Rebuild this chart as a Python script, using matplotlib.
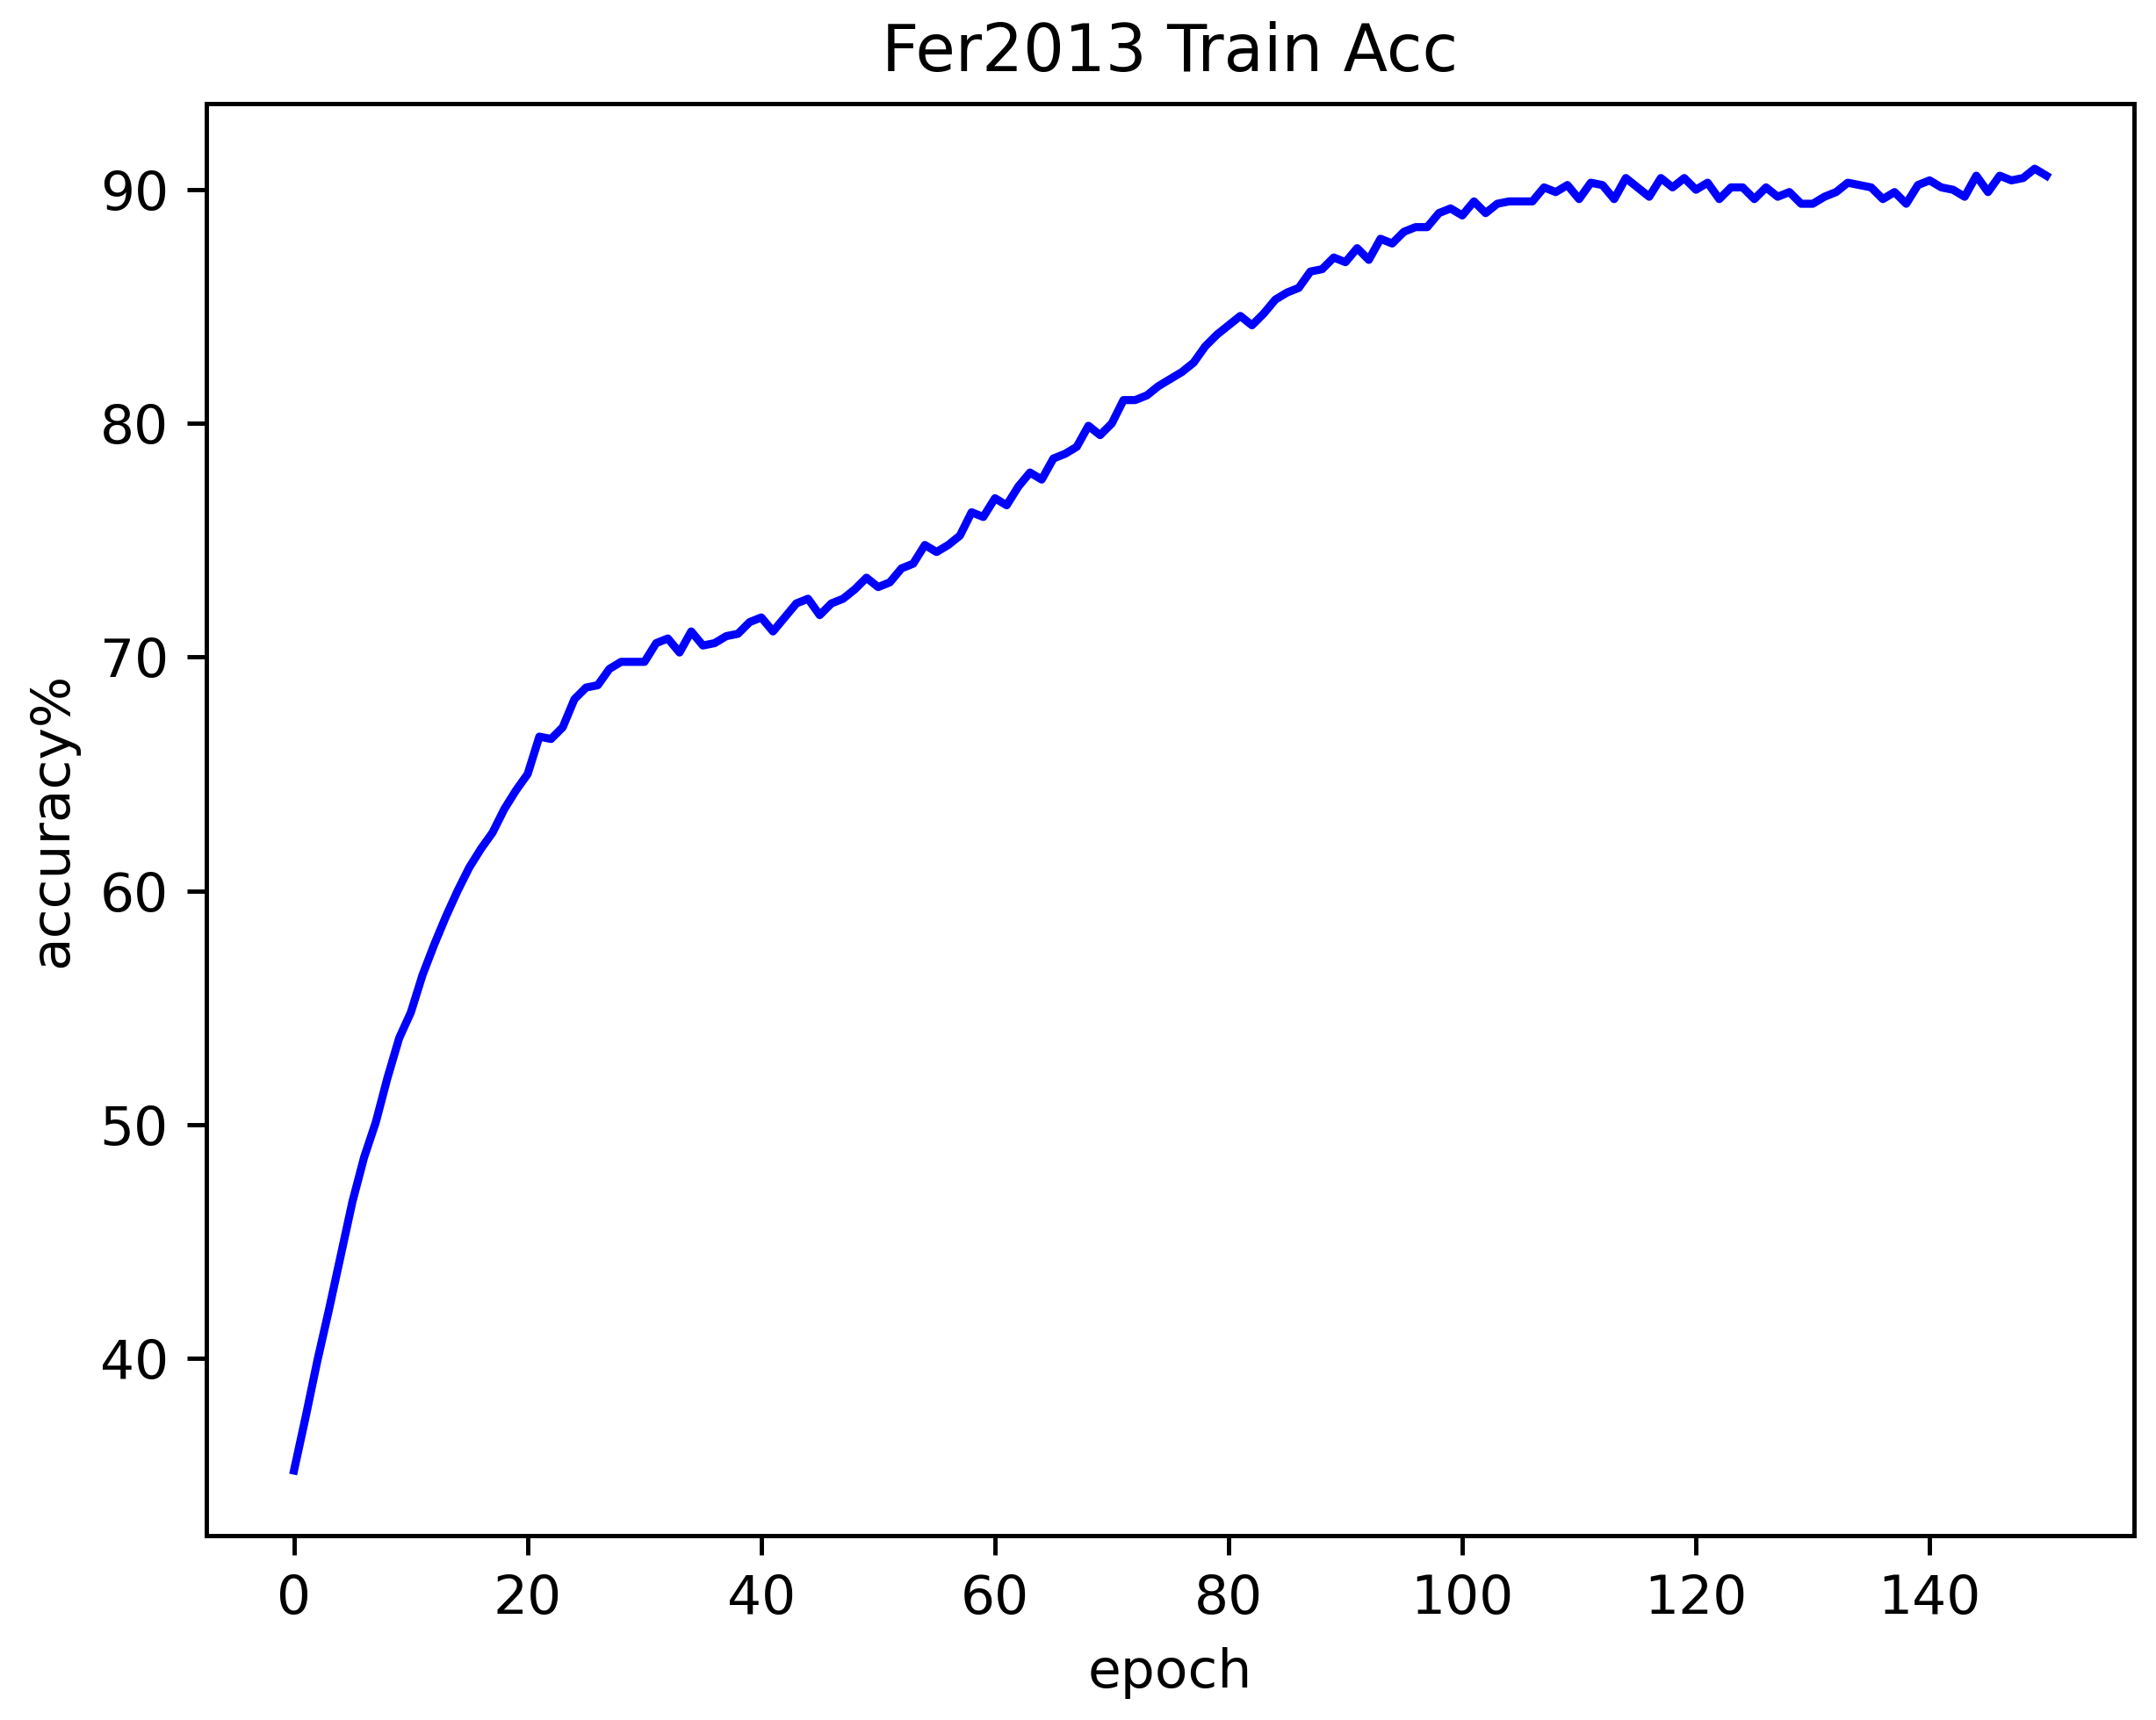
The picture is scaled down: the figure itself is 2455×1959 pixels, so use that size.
import matplotlib
matplotlib.use("Agg")
import matplotlib.pyplot as plt

# train accuracy per epoch
acc_0_19 = [35.2, 37.5, 39.9, 42.1, 44.4, 46.7, 48.6, 50.1, 52.0, 53.7,
            54.8, 56.4, 57.7, 58.9, 60.0, 61.0, 61.8, 62.5, 63.5, 64.3]
acc_20_49 = [65.0, 66.6, 66.5, 67.0, 68.2, 68.7, 68.8, 69.5, 69.8, 69.8,
             69.8, 70.6, 70.8, 70.2, 71.1, 70.5, 70.6, 70.9, 71.0, 71.5,
             71.7, 71.1, 71.7, 72.3, 72.5, 71.8, 72.3, 72.5, 72.9, 73.4]
acc_50_79 = [73.0, 73.2, 73.8, 74.0, 74.8, 74.5, 74.8, 75.2, 76.2, 76.0,
             76.8, 76.5, 77.3, 77.9, 77.6, 78.5, 78.7, 79.0, 79.9, 79.5,
             80.0, 81.0, 81.0, 81.2, 81.6, 81.9, 82.2, 82.6, 83.3, 83.8]
acc_80_109 = [84.2, 84.6, 84.2, 84.7, 85.3, 85.6, 85.8, 86.5, 86.6, 87.1,
              86.9, 87.5, 87.0, 87.9, 87.7, 88.2, 88.4, 88.4, 89.0, 89.2,
              88.9, 89.5, 89.0, 89.4, 89.5, 89.5, 89.5, 90.1, 89.9, 90.2]
acc_110_150 = [89.6, 90.3, 90.2, 89.6, 90.5, 90.1, 89.7, 90.5, 90.1, 90.5,
               90.0, 90.3, 89.6, 90.1, 90.1, 89.6, 90.1, 89.7, 89.9, 89.4,
               89.4, 89.7, 89.9, 90.3, 90.2, 90.1, 89.6, 89.9, 89.4, 90.2,
               90.4, 90.1, 90.0, 89.7, 90.6, 89.9, 90.6, 90.4, 90.5, 90.9,
               90.6]

train_acc = acc_0_19 + acc_20_49 + acc_50_79 + acc_80_109 + acc_110_150
epochs = list(range(len(train_acc)))

dpi = 442.5
fig = plt.figure(figsize=(2455 / dpi, 1959 / dpi), dpi=dpi)
ax = fig.add_axes([235 / 2455, 210 / 1959, 2195 / 2455, 1631 / 1959])

ax.plot(epochs, train_acc, color="blue")
ax.set_title("Fer2013 Train Acc")
ax.set_xlabel("epoch")
ax.set_ylabel("accuracy%")

fig.savefig("out.png", dpi=dpi)
